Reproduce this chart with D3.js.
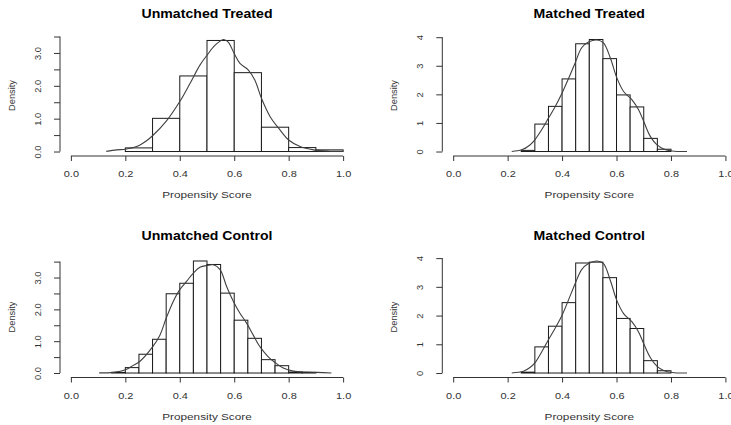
<!DOCTYPE html>
<html><head><meta charset="utf-8">
<script src="https://cdn.jsdelivr.net/npm/d3@7"></script>
<style>body{margin:0;background:#fff}svg{display:block}</style>
</head><body><svg id="c" width="731" height="425"></svg>
<script>
const panelTitles = ["Unmatched Treated", "Matched Treated", "Unmatched Control", "Matched Control"];
const xLabel = "Propensity Score";
const yLabel = "Density";
const xTicks = [0, 0.2, 0.4, 0.6, 0.8, 1.0];
const xTickLabels = ["0.0", "0.2", "0.4", "0.6", "0.8", "1.0"];
const unmatchedYTicks = [0, 0.5, 1, 1.5, 2, 2.5, 3, 3.5];
const unmatchedYLabels = ["0.0", "", "1.0", "", "2.0", "", "3.0", ""];
const matchedYTicks = [0, 1, 2, 3, 4];
const matchedYLabels = ["0", "1", "2", "3", "4"];

// Unmatched Treated
const utBreaks = [0.2, 0.3, 0.4, 0.5, 0.6, 0.7, 0.8, 0.9, 1.0];
const utHeights = [0.11, 1.01, 2.30, 3.38, 2.40, 0.74, 0.12, 0.05];
const utCurveX = [0.13, 0.168, 0.2, 0.241, 0.278, 0.3, 0.352, 0.4, 0.4375, 0.474, 0.5, 0.529, 0.56, 0.578, 0.6, 0.621, 0.652, 0.676, 0.7, 0.732, 0.768, 0.8, 0.842, 0.891, 0.95, 1.0];
const utCurveY = [0.005, 0.05, 0.07, 0.15, 0.33, 0.48, 0.94, 1.52, 2.07, 2.63, 2.93, 3.23, 3.41, 3.33, 2.98, 2.68, 2.48, 2.17, 1.62, 1.06, 0.66, 0.35, 0.15, 0.05, 0.01, 0.005];

// Matched Treated
const mtBreaks = [0.25, 0.3, 0.35, 0.4, 0.45, 0.5, 0.55, 0.6, 0.65, 0.7, 0.75, 0.8];
const mtHeights = [0.04, 0.96, 1.58, 2.54, 3.77, 3.92, 3.25, 1.98, 1.56, 0.46, 0.08];
const mtCurveX = [0.215, 0.252, 0.282, 0.3, 0.325, 0.35, 0.374, 0.4, 0.423, 0.448, 0.472, 0.497, 0.528, 0.552, 0.577, 0.601, 0.626, 0.657, 0.681, 0.7, 0.724, 0.749, 0.773, 0.804, 0.859];
const mtCurveY = [0.003, 0.06, 0.23, 0.41, 0.76, 1.17, 1.56, 2.05, 2.54, 3.1, 3.63, 3.83, 3.9, 3.8, 3.28, 2.58, 2.1, 1.81, 1.46, 1.05, 0.53, 0.23, 0.09, 0.02, 0.002];

// Unmatched Control
const ucBreaks = [0.15, 0.2, 0.25, 0.3, 0.35, 0.4, 0.45, 0.5, 0.55, 0.6, 0.65, 0.7, 0.75, 0.8, 0.85, 0.9];
const ucHeights = [0.02, 0.17, 0.59, 1.06, 2.49, 2.82, 3.52, 3.41, 2.51, 1.66, 1.09, 0.42, 0.23, 0.03, 0.02];
const ucCurveX = [0.104, 0.156, 0.2, 0.229, 0.254, 0.3, 0.327, 0.35, 0.376, 0.4, 0.425, 0.45, 0.474, 0.5, 0.523, 0.548, 0.572, 0.597, 0.621, 0.646, 0.67, 0.695, 0.725, 0.75, 0.78, 0.817, 0.867, 0.903, 0.957];
const ucCurveY = [0.003, 0.02, 0.1, 0.24, 0.37, 0.82, 1.19, 1.72, 2.25, 2.62, 2.88, 3.14, 3.32, 3.38, 3.4, 3.25, 2.72, 2.25, 1.88, 1.56, 1.19, 0.82, 0.51, 0.33, 0.16, 0.06, 0.03, 0.02, 0.002];

// Matched Control
const mcBreaks = [0.25, 0.3, 0.35, 0.4, 0.45, 0.5, 0.55, 0.6, 0.65, 0.7, 0.75, 0.8];
const mcHeights = [0.03, 0.91, 1.63, 2.45, 3.83, 3.86, 3.32, 1.90, 1.55, 0.43, 0.08];
const mcCurveX = [0.215, 0.258, 0.282, 0.3, 0.325, 0.35, 0.374, 0.4, 0.423, 0.448, 0.472, 0.497, 0.528, 0.552, 0.577, 0.601, 0.626, 0.657, 0.681, 0.7, 0.724, 0.749, 0.773, 0.804, 0.859];
const mcCurveY = [0.003, 0.06, 0.19, 0.35, 0.73, 1.16, 1.55, 2.01, 2.53, 3.11, 3.6, 3.81, 3.9, 3.81, 3.23, 2.53, 2.07, 1.78, 1.43, 1.02, 0.54, 0.23, 0.09, 0.02, 0.002];

const panels = [
  {title: panelTitles[0], breaks: utBreaks, heights: utHeights, cx: utCurveX, cy: utCurveY, yt: unmatchedYTicks, yl: unmatchedYLabels, col: 0, row: 0},
  {title: panelTitles[1], breaks: mtBreaks, heights: mtHeights, cx: mtCurveX, cy: mtCurveY, yt: matchedYTicks, yl: matchedYLabels, col: 1, row: 0},
  {title: panelTitles[2], breaks: ucBreaks, heights: ucHeights, cx: ucCurveX, cy: ucCurveY, yt: unmatchedYTicks, yl: unmatchedYLabels, col: 0, row: 1},
  {title: panelTitles[3], breaks: mcBreaks, heights: mcHeights, cx: mcCurveX, cy: mcCurveY, yt: matchedYTicks, yl: matchedYLabels, col: 1, row: 1}
];

const FONT = "'Liberation Sans', Arial, Helvetica, sans-serif";
const svg = d3.select("#c");
const colStep = 382.3, rowStep = 221.5;
const L = 60, R = 354, T = 35, B = 156;

panels.forEach(p => {
  const ox = p.col * colStep, oy = p.row * rowStep;
  const g = svg.append("g").attr("transform", `translate(${ox},${oy})`);
  const ymax = Math.max(d3.max(p.heights), d3.max(p.cy));
  const x = d3.scaleLinear().domain([-0.04, 1.04]).range([L, R]);
  const y = d3.scaleLinear().domain([-0.04 * ymax, 1.04 * ymax]).range([B, T]);

  // histogram bars
  const bins = p.heights.map((h, i) => ({x0: p.breaks[i], x1: p.breaks[i + 1], h}));
  g.append("g").selectAll("rect").data(bins).join("rect")
    .attr("x", d => x(d.x0)).attr("width", d => x(d.x1) - x(d.x0))
    .attr("y", d => y(d.h)).attr("height", d => y(0) - y(d.h))
    .attr("fill", "#fff").attr("stroke", "#1a1a1a").attr("stroke-width", 1);

  // density curve
  const pts = p.cx.map((v, i) => [v, p.cy[i]]);
  g.append("path").datum(pts)
    .attr("d", d3.line().x(d => x(d[0])).y(d => y(d[1])).curve(d3.curveCatmullRom.alpha(0.5)))
    .attr("fill", "none").attr("stroke", "#404040").attr("stroke-width", 1.1);

  // x axis
  const xa = g.append("g").attr("transform", `translate(0,${B})`)
    .call(d3.axisBottom(x).tickValues(xTicks).tickFormat((d, i) => xTickLabels[i]).tickSize(5).tickSizeOuter(0));
  xa.select(".domain").attr("d", `M${x(xTicks[0])},0H${x(xTicks[xTicks.length - 1])}`);
  xa.selectAll("line, .domain").attr("stroke", "#333");
  xa.selectAll("text").attr("y", 21.3).attr("dy", null)
    .attr("transform", "scale(1.18,1)")
    .attr("font-family", FONT).attr("font-size", 9.3).attr("fill", "#333");

  // y axis
  const ya = g.append("g").attr("transform", `translate(${L},0)`)
    .call(d3.axisLeft(y).tickValues(p.yt).tickFormat((d, i) => p.yl[i]).tickSize(6).tickSizeOuter(0));
  ya.select(".domain").attr("d", `M0,${y(p.yt[0])}V${y(p.yt[p.yt.length - 1])}`);
  ya.selectAll("line, .domain").attr("stroke", "#333");
  ya.selectAll(".tick text").attr("x", null).attr("dy", null)
    .attr("text-anchor", "middle")
    .attr("transform", "translate(-19.5,0) rotate(-90)")
    .attr("font-family", FONT).attr("font-size", 9.3).attr("fill", "#333");
  svg.selectAll(".tick").attr("font-family", null);
  g.selectAll("g").attr("font-family", null).attr("font-size", null);

  // title
  const cxm = (L + R) / 2;
  g.append("text").attr("transform", `translate(${cxm},${T - 16.7}) scale(1.13,1)`)
    .attr("text-anchor", "middle").attr("font-family", FONT).attr("font-weight", "bold")
    .attr("font-size", 12.5).attr("fill", "#000").text(p.title);

  // x label
  g.append("text").attr("transform", `translate(${cxm},${B + 42}) scale(1.2,1)`)
    .attr("text-anchor", "middle").attr("font-family", FONT)
    .attr("font-size", 9.8).attr("fill", "#333").text(xLabel);

  // y label
  g.append("text").attr("transform", `translate(${L - 45.5},${(T + B) / 2}) rotate(-90)`)
    .attr("text-anchor", "middle").attr("font-family", FONT)
    .attr("font-size", 9.3).attr("fill", "#333").text(yLabel);
});
</script>
</body></html>
